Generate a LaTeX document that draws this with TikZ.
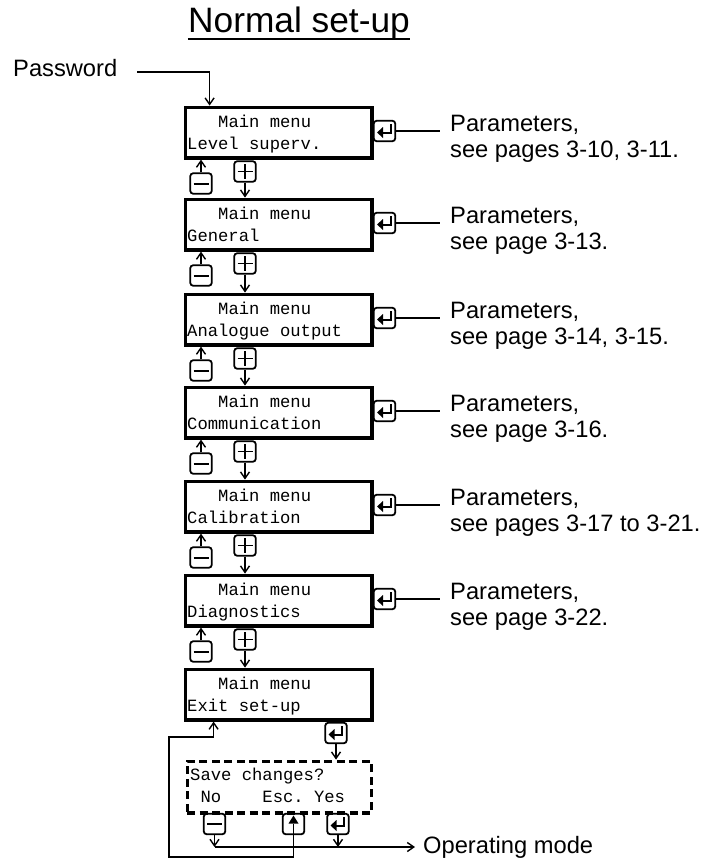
\documentclass[tikz,border=0pt]{standalone}
\usepackage{fontspec}
\setmainfont{Liberation Sans}
\setmonofont{Liberation Mono}
\usetikzlibrary{arrows.meta,calc}

\newcommand\EnterSym[1]{\begin{scope}[shift={(#1.center)}]
  \fill (-7.5,1.5) -- (-1.5,-4) -- (-1.5,7) -- cycle;
  \draw[line width=2pt] (-2,1.5) -- (6,1.5) -- (6,-7);
\end{scope}}
\newcommand\MinusSym[1]{\begin{scope}[shift={(#1.center)}]
  \draw[line width=2pt] (-7.5,0) -- (7.5,0);
\end{scope}}
\newcommand\PlusSym[1]{\begin{scope}[shift={(#1.center)}]
  \draw[line width=1.7pt] (-7.5,0) -- (7.5,0) (0,-7.5) -- (0,7.5);
\end{scope}}
\newcommand\EscSym[1]{\begin{scope}[shift={(#1.center)}]
  \fill (0,-8.5) -- (-5,-0.5) -- (5,-0.5) -- cycle;
\end{scope}}

\begin{document}
\begin{tikzpicture}[x=1pt,y=-1pt,
  menubox/.style={draw, line width=3.2pt, minimum width=186.8pt, minimum height=50.8pt, inner sep=0pt, anchor=north west},
  savebox/.style={draw, line width=3.2pt, dash pattern=on 8pt off 4.5pt, minimum width=184pt, minimum height=51.8pt, inner sep=0pt, anchor=north west},
  keybox/.style={draw, line width=1.8pt, rounded corners=3pt, minimum width=21.5pt, minimum height=20.5pt, inner sep=0pt},
  conn/.style={line width=1.4pt},
  arr/.style={conn, -{Straight Barb[length=6.5pt,width=9pt]}},
  mono/.style={font=\fontsize{17.2}{22}\ttfamily, inner sep=0pt, anchor=base west},
  paramtext/.style={font=\fontsize{23.7}{27}\selectfont, inner sep=0pt, anchor=base west},
]
\useasboundingbox (0,0) rectangle (707,859);

% title
\node[font=\fontsize{35.3}{36}\selectfont, inner sep=0pt, anchor=base] (title) at (299,33) {Normal set-up};
\draw[line width=2pt] ([yshift=-6pt]title.base west) -- ([yshift=-6pt]title.base east);

% menu boxes
\foreach \i/\T/\nm in {1/104/{Level superv.}, 2/196/General, 3/291/{Analogue output}, 4/384/Communication, 5/478/Calibration, 6/572/Diagnostics, 7/666/{Exit set-up}}{
  \node[menubox] (m\i) at (183.6,\T+1.6) {};
  \node[mono] (ma\i) at (218,\T+23) {Main menu};
  \node[mono] (mb\i) at (187,\T+45) {\nm};
}

% enter keys and parameter texts
\foreach \i/\T/\pg in {1/104/{see pages 3-10, 3-11.}, 2/196/{see page 3-13.}, 3/291/{see page 3-14, 3-15.}, 4/384/{see page 3-16.}, 5/478/{see pages 3-17 to 3-21.}, 6/572/{see page 3-22.}}{
  \node[keybox] (e\i) at (384.5,\T+27) {};
  \EnterSym{e\i}
  \node[paramtext] (pa\i) at (450,\T+27) {Parameters,};
  \node[paramtext] (pb\i) at (450,\T+53) {\pg};
  \draw[conn, shorten >=10pt] (e\i.east) -- (e\i.east -| pa\i.west);
}

% minus / plus keys between boxes
\foreach \i/\T in {1/104, 2/196, 3/291, 4/384, 5/478, 6/572}{
  \pgfmathtruncatemacro\j{\i+1}
  \node[keybox] (mi\i) at (201,\T+79.5) {};
  \MinusSym{mi\i}
  \node[keybox] (pl\i) at (245,\T+67.5) {};
  \PlusSym{pl\i}
  \draw[arr] (mi\i.north) -- (mi\i.north |- m\i.south);
  \draw[arr] (pl\i.south) -- (pl\i.south |- m\j.north);
}

% password
\node[paramtext] (pw) at (13,76) {Password};
\draw[arr] ($(pw.base east)+(20,-4)$) -| ([xshift=26pt]m1.north west);

% exit -> save changes
\node[keybox] (x7) at (336,733) {};
\EnterSym{x7}
\node[savebox] (sv) at (185.6,759.6) {};
\node[mono] (sva) at (190,780) {Save changes?};
\node[mono] (svb) at (190,802) {\ No\ \ \ \ Esc.\ Yes};
\draw[arr] (x7.south) -- (x7.south |- sv.north);

% keys below save box
\node[keybox] (kno) at (214.5,824) {};
\MinusSym{kno}
\node[keybox] (kesc) at (293.5,824) {};
\EscSym{kesc}
\node[keybox] (kyes) at (338,824) {};
\EnterSym{kyes}

% operating mode
\node[paramtext] (op) at (423,853) {Operating mode};
\coordinate (opl) at (214.5,847);
\draw[arr] (kno.south) -- (kno.south |- opl);
\draw[arr] (kyes.south) -- (kyes.south |- opl);
\draw[arr] (opl) -- ([xshift=-8pt]op.west |- opl);

% escape loop back to exit box
\coordinate (lpb) at (169,857);
\coordinate (lpt) at (169,737);
\draw[arr] ([yshift=0.5pt]kesc.center) -- (kesc.center |- lpb) -- (lpb) -- (lpt) -| ([xshift=30pt]m7.south west);
\end{tikzpicture}
\end{document}
